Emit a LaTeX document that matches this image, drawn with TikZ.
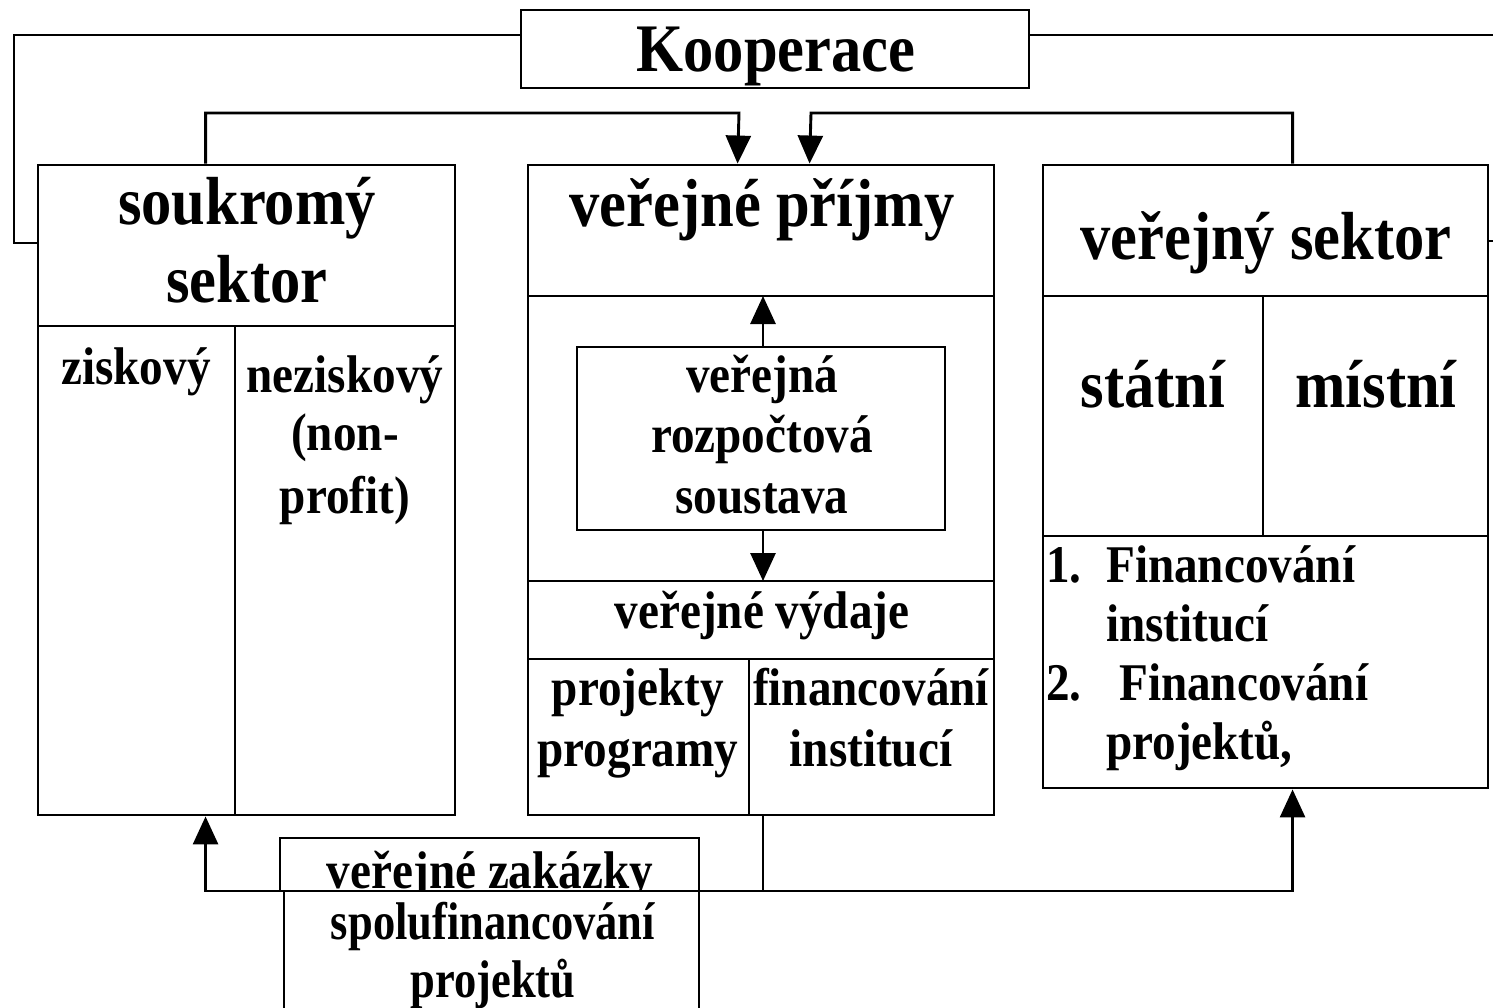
\documentclass[tikz,border=0pt]{standalone}
\usepackage{fontspec}
\setmainfont{Liberation Serif}[FakeStretch=0.89]
\usetikzlibrary{arrows.meta}
\begin{document}
\begin{tikzpicture}[x=1pt,y=-1pt,
  ln/.style={line width=2.9pt},
  box/.style={draw, line width=2.9pt, inner sep=0pt, rectangle},
  arr/.style={line width=2.9pt, -{Triangle[length=28pt,width=25pt]}},
  bigt/.style={font=\fontsize{68pt}{80pt}\selectfont\bfseries, anchor=base, inner sep=0pt},
  midt/.style={font=\fontsize{53pt}{62pt}\selectfont\bfseries, anchor=base, inner sep=0pt},
  midn/.style={midt, font=\fontsize{53pt}{62pt}\selectfont\bfseries\addfontfeatures{FakeStretch=0.84}},
  midl/.style={midt, anchor=base west}]
\useasboundingbox (0,0) rectangle (1493,1008);
\clip (0,0) rectangle (1493,1008);

% main boxes
\node[box, minimum width=508pt, minimum height=78pt] (koop) at (775,49) {};
\node[box, minimum width=417pt, minimum height=650pt] (sk) at (246.5,490) {};
\node[box, minimum width=466pt, minimum height=650pt] (vp) at (761,490) {};
\node[box, minimum width=445pt, minimum height=623pt] (vs) at (1265.5,476.5) {};
\node[box, minimum width=368pt, minimum height=183pt] (vrs) at (761,438.5) {};

% dividers
\draw[ln] (38,326) -- (455,326);
\draw[ln] (235,326) -- (235,815);
\draw[ln] (528,296) -- (994,296);
\draw[ln] (528,581) -- (994,581);
\draw[ln] (528,659) -- (994,659);
\draw[ln] (749,659) -- (749,815);
\draw[ln] (1043,296) -- (1488,296);
\draw[ln] (1043,536) -- (1488,536);
\draw[ln] (1263,296) -- (1263,536);

% texts
\node[bigt] (tkoop) at (776,72) {Kooperace};
\node[bigt] (tsk1) at (247,225) {soukromý};
\node[bigt] (tsk2) at (247,302) {sektor};
\node[bigt] (tvp) at (762,227) {veřejné příjmy};
\node[bigt] (tvs) at (1266,260) {veřejný sektor};
\node[bigt] (tstat) at (1153,407) {státní};
\node[bigt] (tmist) at (1376,407) {místní};

\node[midt] (tzis) at (136,384) {ziskový};
\node[midt] (tnez1) at (345,392) {neziskový};
\node[midt] (tnez2) at (345,450) {(non-};
\node[midt] (tnez3) at (345,513) {profit)};
\node[midt] (tvrs1) at (762,392) {veřejná};
\node[midt] (tvrs2) at (762,452) {rozpočtová};
\node[midt] (tvrs3) at (762,513) {soustava};
\node[midt] (tvv) at (762,628) {veřejné výdaje};
\node[midt] (tpp1) at (638,705) {projekty};
\node[midt] (tpp2) at (638,766) {programy};
\node[midt] (tfi1) at (871,705) {financování};
\node[midt] (tfi2) at (871,766) {institucí};
\node[midl] (tl1n) at (1046,582) {1.};
\node[midl] (tl1a) at (1106,582) {Financování};
\node[midl] (tl1b) at (1106,641) {institucí};
\node[midl] (tl2n) at (1046,700) {2.};
\node[midl] (tl2a) at (1119,700) {Financování};
\node[midl] (tl2b) at (1106,759) {projektů,};

% bottom upper box
\node[box, minimum width=419pt, minimum height=53pt] (zak) at (489.5,864.5) {};
\node[midt] (tzak) at (490,888) {veřejné zakázky};

% connectors
\coordinate (cA) at (739,113);
\coordinate (cB) at (811,113);
\draw[arr] ([xshift=169pt]sk.north west) |- (cA) -- ([xshift=211pt]vp.north west);
\draw[arr] ([xshift=251pt]vs.north west) |- (cB) -- ([xshift=283pt]vp.north west);

\coordinate (cL) at (14,243);
\draw[ln] ([yshift=14pt]koop.west) -| (cL) -- ([yshift=247pt]sk.west);
\coordinate (cR) at (1520,241);
\draw[ln] ([yshift=14pt]koop.east) -| (cR) -- ([yshift=235.5pt]vs.east);

\coordinate (vpH1) at (763,296);
\coordinate (vpH2) at (763,581);
\draw[arr] ([xshift=2pt]vrs.north) -- (vpH1);
\draw[arr] ([xshift=2pt]vrs.south) -- (vpH2);

\coordinate (cD) at (763,891);
\draw[ln] ([xshift=2pt]vp.south) -- (cD);
\draw[arr] (cD) -| ([xshift=169pt]sk.south west);
\draw[arr] (cD) -| ([xshift=251pt]vs.south west);

% bottom lower box (covers descenders of upper text)
\node[box, fill=white, minimum width=415pt, minimum height=150pt] (spf) at (491.5,966) {};
\node[midn] (tspf1) at (493,939) {spolufinancování};
\node[midn] (tspf2) at (493,997) {projektů};
\end{tikzpicture}
\end{document}
